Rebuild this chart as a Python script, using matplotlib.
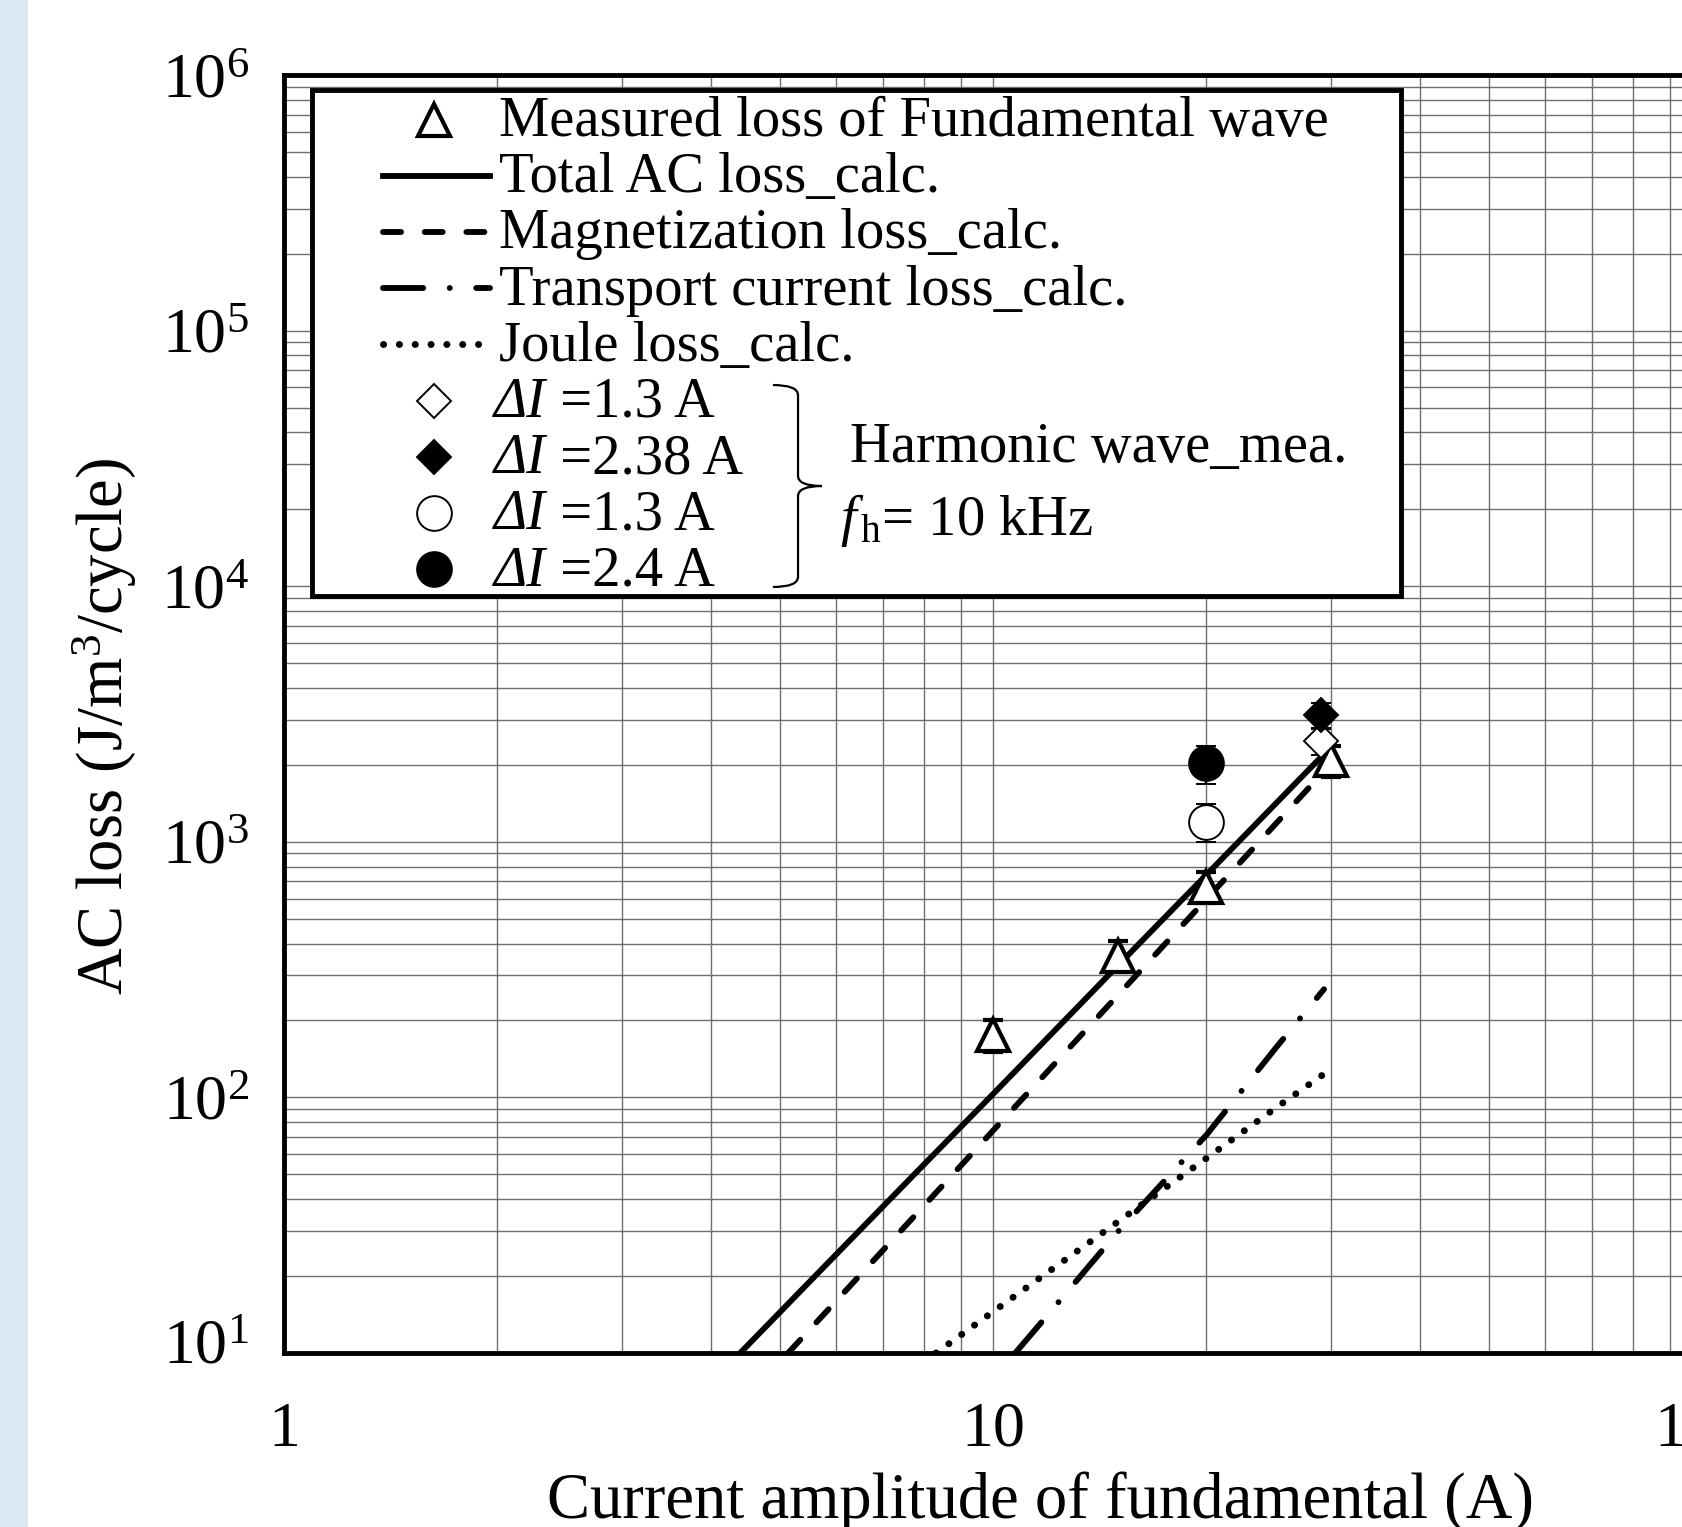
import numpy as np
import matplotlib
matplotlib.use('Agg')
import matplotlib.pyplot as plt
from matplotlib.lines import Line2D
from matplotlib.patches import Rectangle, PathPatch
from matplotlib.path import Path
from matplotlib.ticker import LogLocator, NullFormatter
from matplotlib.transforms import ScaledTranslation

plt.rcParams['font.family'] = 'Liberation Serif'
plt.rcParams['mathtext.fontset'] = 'custom'
plt.rcParams['mathtext.rm'] = 'Liberation Serif'
plt.rcParams['mathtext.it'] = 'Liberation Serif:italic'
plt.rcParams['lines.scale_dashes'] = False

# calculated losses, current amplitude (A) vs loss (J/m3/cycle)
i_total = [4.4, 6, 8, 10, 15, 20, 25, 29.3]
q_total = [10, 24.2, 54.8, 103, 328, 743, 1403, 2205]
i_mag = [5.14, 6, 8, 10, 15, 20, 25, 29.3]
q_mag = [10, 15.9, 37.8, 74.1, 251, 597, 1169, 1886]
i_trans = [10.75, 12, 15, 20, 25, 29.3]
q_trans = [10, 14.3, 29.8, 71.3, 155, 265]
i_joule = [8.31, 10, 15, 20, 25, 29.3]
q_joule = [10, 14.5, 32.6, 57.8, 90.6, 123.5]

# measured loss of the fundamental wave
i_meas = [10, 15, 20, 30]
q_meas = [175, 359, 667, 2089]
q_meas_err = [25, 50, 93, 292]

# harmonic wave measurements (fh = 10 kHz)
i_dia = [29]
q_dia_13 = [2486]
q_dia_13_err = [300]
q_dia_238 = [3133]
q_dia_238_err = [370]
i_circ = [20]
q_circ_13 = [1199]
q_circ_13_err = [205]
q_circ_24 = [2028]
q_circ_24_err = [350]

legend_labels = ['Measured loss of Fundamental wave', 'Total AC loss_calc.',
                 'Magnetization loss_calc.', 'Transport current loss_calc.',
                 'Joule loss_calc.', '1.3', '2.38', '1.3', '2.4']

fig = plt.figure(figsize=(16.82, 15.27), dpi=100)
fig.patches.append(Rectangle((0, 0), 27 / 1682, 1, transform=fig.transFigure,
                             color='#dde8f5', zorder=-1))
ax = fig.add_axes([0.16885, 0.11395, 0.84304, 0.83693])

LW = 4.2
styles = {
    'total': dict(color='black', lw=LW, ls='-'),
    'mag': dict(color='black', lw=LW, ls=(0, (13, 17)), dash_capstyle='round'),
    'trans': dict(color='black', lw=LW, ls=(0, (29, 19, 0.1, 19)), dash_capstyle='round'),
    'joule': dict(color='black', lw=5.0, ls=(0, (0.1, 11.3)), dash_capstyle='round'),
}

ax.plot(i_total, q_total, zorder=3, **styles['total'])
ax.plot(i_mag, q_mag, zorder=3, **styles['mag'])
ax.plot(i_trans, q_trans, zorder=3, **styles['trans'])
ax.plot(i_joule, q_joule, zorder=3, **styles['joule'])

mk = {
    'tri': dict(marker='^', ms=23, mfc='white', mec='black', mew=3.0),
    'dia_o': dict(marker='D', ms=17.5, mfc='white', mec='black', mew=1.4),
    'dia_f': dict(marker='D', ms=17.5, mfc='black', mec='black', mew=1.4),
    'circ_o': dict(marker='o', ms=25, mfc='white', mec='black', mew=1.4),
    'circ_f': dict(marker='o', ms=25, mfc='black', mec='black', mew=1.4),
}
eb = dict(ls='none', ecolor='black', elinewidth=1.6, capsize=7, capthick=2.4, zorder=5)

ax.errorbar(i_meas, q_meas, yerr=q_meas_err, **mk['tri'], **eb)
ax.errorbar(i_dia, q_dia_13, yerr=q_dia_13_err, **mk['dia_o'], **eb)
ax.errorbar(i_dia, q_dia_238, yerr=q_dia_238_err, **mk['dia_f'], **eb)
ax.errorbar(i_circ, q_circ_13, yerr=q_circ_13_err, **mk['circ_o'], **eb)
ax.errorbar(i_circ, q_circ_24, yerr=q_circ_24_err, **mk['circ_f'], **eb)

ax.set_xscale('log')
ax.set_yscale('log')
ax.set_xlim(1, 100)
ax.set_ylim(10, 1e6)
ax.set_xticks([1, 10, 100], ['1', '10', '100'])
ax.yaxis.set_major_locator(LogLocator(base=10, numticks=20))
for axis in (ax.xaxis, ax.yaxis):
    axis.set_minor_locator(LogLocator(base=10, subs=np.arange(2, 10), numticks=100))
    axis.set_minor_formatter(NullFormatter())
ax.tick_params(which='both', length=0)
ax.tick_params(axis='x', pad=35, labelsize=46)
ax.tick_params(axis='y', pad=25, labelsize=46)
ax.grid(True, which='both', color='#6e6e6e', lw=1.0)
ax.set_axisbelow(True)
for s in ax.spines.values():
    s.set_linewidth(3.5)

ax.set_xlabel('Current amplitude of fundamental (A)', fontsize=46.5)
ax.xaxis.set_label_coords(0.5332, -0.1291)
ax.xaxis.label.set_va('baseline')
ax.set_ylabel('AC loss (J/m$^{3}$/cycle)', fontsize=46.5)
ax.yaxis.set_label_coords(-0.1269, 0.4902)
ax.yaxis.label.set_va('center')
ax.yaxis.label.set_ha('center')

# lift the bottom y label a little off the x axis
fig.canvas.draw()
for tick in ax.yaxis.get_major_ticks():
    if np.isclose(tick.get_loc(), 10):
        tick.label1.set_transform(tick.label1.get_transform()
                                  + ScaledTranslation(0, 0.11, fig.dpi_scale_trans))

# legend box, drawn by hand in axes fraction
T = ax.transAxes
ax.add_patch(Rectangle((0.0197, 0.5923), 0.768, 0.396, transform=T, fill=True,
                       fc='white', ec='black', lw=3.5, zorder=8, clip_on=False))
base0, step = 0.9523, 0.04398
x_l0, x_l1, x_mk = 0.0698, 0.1453, 0.1061
x_txt, x_di = 0.1516, 0.1477
lfs = 40.8

handles = [('mk', 'tri'), ('ln', 'total'), ('ln', 'mag'), ('ln', 'trans'), ('ln', 'joule'),
           ('mk', 'dia_o'), ('mk', 'dia_f'), ('mk', 'circ_o'), ('mk', 'circ_f')]
for k, ((kind, key), lab) in enumerate(zip(handles, legend_labels)):
    yb = base0 - k * step
    ys = yb + 0.0128
    if kind == 'ln':
        ax.add_line(Line2D([x_l0, x_l1], [ys, ys], transform=T, zorder=9,
                           clip_on=False, **styles[key]))
    else:
        ax.add_line(Line2D([x_mk], [ys], transform=T, zorder=9, clip_on=False,
                           ls='none', **mk[key]))
    if k < 5:
        ax.text(x_txt, yb, lab, transform=T, fontsize=lfs, va='baseline', zorder=10)
    else:
        t1 = ax.text(x_di, yb, 'ΔI', style='italic', transform=T, fontsize=lfs,
                     va='baseline', zorder=10)
        ax.annotate(' =' + lab + ' A', xy=(1, 0), xycoords=t1, fontsize=lfs,
                    va='bottom', ha='left', zorder=10)

# curly bracket grouping the harmonic entries
bx0, bx1, bx2 = 0.3448, 0.3625, 0.3794
by0, bym, by1 = 0.7574, 0.6784, 0.5994
codes = [Path.MOVETO, Path.CURVE3, Path.CURVE3,
         Path.LINETO, Path.CURVE3, Path.CURVE3,
         Path.MOVETO, Path.CURVE3, Path.CURVE3,
         Path.LINETO, Path.CURVE3, Path.CURVE3]
verts = [(bx0, by0), (bx1, by0), (bx1, by0 - 0.008),
         (bx1, bym + 0.008), (bx1, bym), (bx2, bym),
         (bx2, bym), (bx1, bym), (bx1, bym - 0.008),
         (bx1, by1 + 0.008), (bx1, by1), (bx0, by1)]
ax.add_patch(PathPatch(Path(verts, codes), transform=T, fill=False, ec='black',
                       lw=1.6, zorder=10, clip_on=False))
ax.text(0.3992, 0.6974, 'Harmonic wave_mea.', transform=T, fontsize=lfs,
        va='baseline', zorder=10)
ax.text(0.3921, 0.6401, r'$f_{\,\mathrm{h}}$= 10 kHz', transform=T, fontsize=lfs,
        va='baseline', zorder=10)

fig.savefig('out.png', dpi=100)
